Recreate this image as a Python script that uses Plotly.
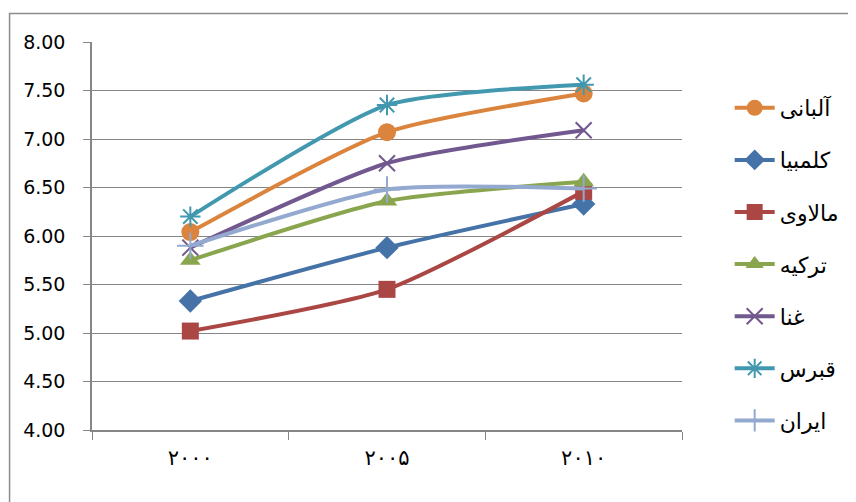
import plotly.graph_objects as go

years = ["۲۰۰۰", "۲۰۰۵", "۲۰۱۰"]
names = ["آلبانی", "کلمبیا", "مالاوی", "ترکیه", "غنا", "قبرس", "ایران"]
albania = [6.04, 7.07, 7.47]
colombia = [5.33, 5.88, 6.33]
malawi = [5.02, 5.45, 6.46]
turkey = [5.75, 6.36, 6.56]
ghana = [5.88, 6.75, 7.09]
cyprus = [6.20, 7.35, 7.56]
iran = [5.90, 6.48, 6.49]
y_ticks = [4.0, 4.5, 5.0, 5.5, 6.0, 6.5, 7.0, 7.5, 8.0]

series = [albania, colombia, malawi, turkey, ghana, cyprus, iran]
colors = ["#DB843D", "#4572A7", "#AA4643", "#89A54E", "#71588F", "#4198AF", "#93A9CF"]
symbols = ["circle", "diamond", "square", "triangle-up", "x-thin", "asterisk-open", "cross-thin"]
sizes = [18, 18, 17, 18, 16, 17, 19]

fig = go.Figure()
for i, (nm, vals) in enumerate(zip(names, series)):
    thin = symbols[i] in ("x-thin", "asterisk-open", "cross-thin")
    fig.add_trace(go.Scatter(
        x=years, y=vals, name=nm, mode="lines+markers",
        legendgroup=f"g{i}",
        line=dict(color=colors[i], width=4, shape="spline", smoothing=0.6),
        marker=dict(symbol=symbols[i], size=sizes[i], color=colors[i],
                    line=dict(color=colors[i], width=2 if thin else 0)),
    ))

# page body has an 8px margin, so the figure is drawn from (8, 8)
OFF = 8
W, H = 856 - OFF, 502 - OFF
L, T = 92 - OFF, 42 - OFF
R = W - (686 - OFF)
B = H - (430 - OFF)
pw, ph = W - L - R, H - T - B

def px_x(p):
    return (p - OFF - L) / pw

def px_y(p):
    return (H - B - (p - OFF)) / ph

fig.add_shape(type="rect", xref="paper", yref="paper",
              x0=px_x(9), x1=px_x(900), y0=px_y(560), y1=px_y(13.5),
              line=dict(color="#8C8C8C", width=1.5), fillcolor="rgba(0,0,0,0)", layer="below")

fig.update_layout(
    width=W, height=H,
    margin=dict(l=L, r=R, t=T, b=B),
    paper_bgcolor="white", plot_bgcolor="white",
    font=dict(family="DejaVu Sans", size=19, color="#000000"),
    showlegend=True,
    legend=dict(x=px_x(734), y=px_y(87), xanchor="left", yanchor="top",
                font=dict(family="DejaVu Sans", size=22), traceorder="grouped",
                tracegroupgap=20.5, bgcolor="rgba(0,0,0,0)", itemwidth=40),
    xaxis=dict(type="category", range=[-0.5, 2.5], showgrid=False,
               showline=True, linecolor="#868686", linewidth=1.5,
               ticks="outside", tickson="boundaries", ticklen=8, tickcolor="#868686",
               tickfont=dict(size=21), ticklabelstandoff=8, fixedrange=True),
    yaxis=dict(range=[4, 8], tickvals=y_ticks, tickformat=".2f",
               showgrid=True, gridcolor="#868686", gridwidth=1.2,
               showline=True, linecolor="#868686", linewidth=1.5,
               ticks="outside", ticklen=7, tickcolor="#868686",
               tickfont=dict(size=19), ticklabelstandoff=14, zeroline=False),
)

fig.write_html("out.html")
